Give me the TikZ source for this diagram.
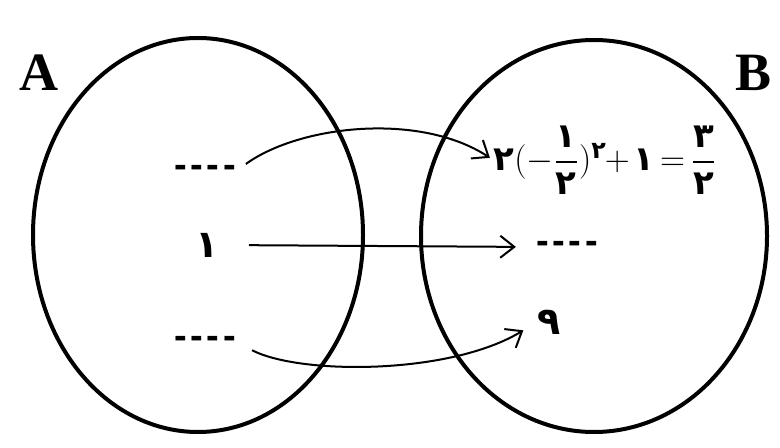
\documentclass[tikz,border=0pt]{standalone}
\usepackage{amsmath}
\usepackage{fontspec}
\usetikzlibrary{arrows.meta}
\newfontfamily\arabicfont[Script=Arabic]{DejaVu Sans}
\newfontfamily\setfont{Liberation Serif}
\newfontfamily\dashfont{Liberation Sans}
\newcommand{\ard}[1]{\text{\arabicfont\bfseries #1}}
\newcommand{\fourdash}{{\dashfont\bfseries -\kern1.8pt-\kern1.8pt-\kern1.8pt-}}

\tikzset{
  setline/.style={line width=2pt},
  maparrow/.style={line width=1pt, -{Straight Barb[length=7pt,width=11pt,line width=1pt]}},
  setlabel/.style={font=\fontsize{27}{30}\setfont\bfseries, inner sep=0pt},
  dashlabel/.style={font=\fontsize{19}{24}\selectfont, inner sep=0pt},
  digit/.style={font=\fontsize{19}{22}\arabicfont\bfseries, inner sep=0pt},
  formula/.style={font=\fontsize{17}{20}\selectfont, inner sep=0pt}
}

\begin{document}
\begin{tikzpicture}[x=0.5pt, y=-0.5pt]
  \useasboundingbox (0,0) rectangle (780,448);

  % the two sets
  \draw[setline] (198,235) ellipse [x radius=165, y radius=197];
  \draw[setline] (594,236) ellipse [x radius=173, y radius=196];
  \node[setlabel] (labA) at (39,73) {A};
  \node[setlabel] (labB) at (753,73) {B};

  % elements of A
  \node[dashlabel] (a1) at (205,171) {\fourdash};
  \node[digit] (a2) at (207,245) {١};
  \node[dashlabel] (a3) at (205,342) {\fourdash};

  % elements of B
  \node[formula] (b1) at (605,160)
    {$\medmuskip=2mu \thickmuskip=3mu
      \ard{٢}(-\dfrac{\ard{١}}{\ard{٢}})^{\ard{٢}}\!+\ard{١}=\dfrac{\ard{٣}}{\ard{٢}}$};
  \node[dashlabel] (b2) at (567,247) {\fourdash};
  \node[digit] (b3) at (549,322) {٩};

  % the mapping
  \draw[maparrow, shorten <=6pt, shorten >=2pt] (a1.east) .. controls (300,125) and (420,112) .. (b1.west);
  \draw[maparrow, shorten <=15pt, shorten >=10pt] (a2.east) -- (b2.west);
  \draw[maparrow, shorten <=9pt, shorten >=8pt] (a3.east) .. controls (300,375) and (450,375) .. (b3.west);
\end{tikzpicture}
\end{document}
